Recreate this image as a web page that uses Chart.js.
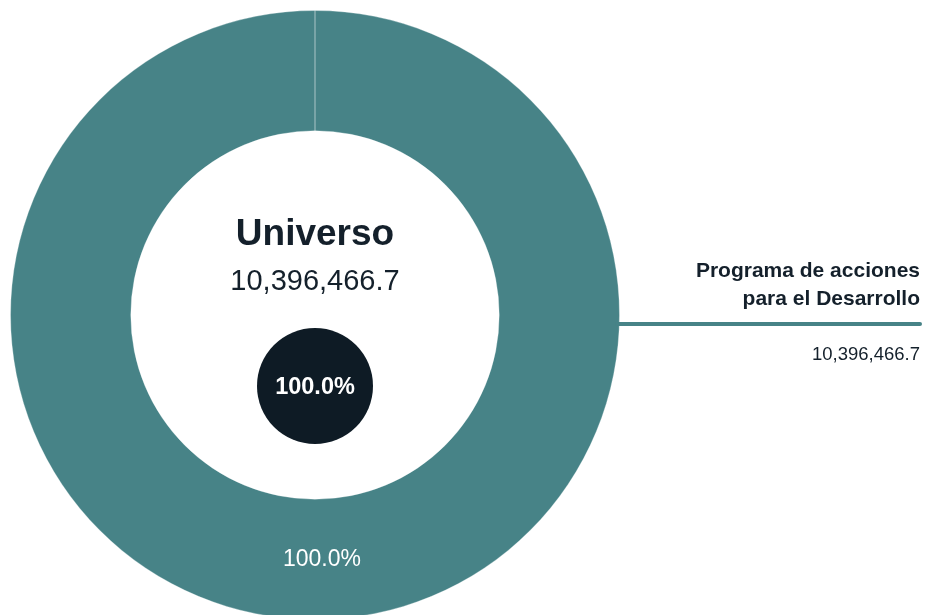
<!DOCTYPE html>
<html>
<head>
<meta charset="utf-8">
<script src="https://cdn.jsdelivr.net/npm/chart.js@4/dist/chart.umd.min.js"></script>
<style>
html,body{margin:0;padding:0;background:#fff;overflow:hidden;width:930px;height:615px;}
#wrap{position:absolute;left:0;top:0;width:930px;height:620px;}
</style>
</head>
<body>
<div id="wrap"><canvas id="c" width="930" height="620"></canvas></div>
<script>
const categories = ['Programa de acciones para el Desarrollo'];
const labelLines = [['Programa de acciones', 'para el Desarrollo']];
const values = [10396466.7];
const centerTitle = 'Universo';
const colors = ['#478387'];

const total = values.reduce((a, b) => a + b, 0);
const fmt = v => v.toLocaleString('en-US', {minimumFractionDigits: 1, maximumFractionDigits: 1});
const pct = v => (v / total * 100).toFixed(1) + '%';
const FONT = '"Liberation Sans", Arial, sans-serif';

const overlay = {
  id: 'overlay',
  afterDraw(chart) {
    const ctx = chart.ctx;
    const meta = chart.getDatasetMeta(0);
    const arc0 = meta.data[0];
    const cx = arc0.x, cy = arc0.y;
    const R = arc0.outerRadius;
    ctx.save();
    ctx.textBaseline = 'alphabetic';
    // slice percentage labels
    meta.data.forEach((arc, i) => {
      const mid = (arc.startAngle + arc.endAngle) / 2;
      const rr = (arc.innerRadius + arc.outerRadius) / 2;
      ctx.fillStyle = '#ffffff';
      ctx.font = '23px ' + FONT;
      ctx.textAlign = 'center';
      ctx.fillText(pct(values[i]), arc.x + Math.cos(mid) * rr + 7, arc.y + Math.sin(mid) * rr + 7);
    });
    // center texts
    ctx.fillStyle = '#14202b';
    ctx.textAlign = 'center';
    ctx.font = 'bold 37px ' + FONT;
    ctx.fillText(centerTitle, cx, cy - 70);
    ctx.font = '29px ' + FONT;
    ctx.fillText(fmt(total), cx, cy - 25);
    // dark circle
    ctx.fillStyle = '#0e1b25';
    ctx.beginPath();
    ctx.arc(cx, cy + 71, 58, 0, Math.PI * 2);
    ctx.fill();
    ctx.fillStyle = '#ffffff';
    ctx.font = 'bold 23.5px ' + FONT;
    ctx.fillText(pct(total), cx, cy + 79);
    // leader line & side label
    const xr = chart.width - 10;
    const ly = cy + 9;
    ctx.strokeStyle = colors[0];
    ctx.lineWidth = 4;
    ctx.lineCap = 'round';
    ctx.beginPath();
    ctx.moveTo(cx + R - 2, ly);
    ctx.lineTo(xr, ly);
    ctx.stroke();
    ctx.fillStyle = '#14202b';
    ctx.textAlign = 'right';
    ctx.font = 'bold 21px ' + FONT;
    labelLines[0].forEach((t, j) => ctx.fillText(t, xr, ly - 47 + j * 28));
    ctx.font = '18.5px ' + FONT;
    ctx.fillText(fmt(values[0]), xr, ly + 36);
    ctx.restore();
  }
};

new Chart(document.getElementById('c'), {
  type: 'doughnut',
  data: {
    labels: categories,
    datasets: [{
      data: values,
      backgroundColor: colors,
      borderColor: 'rgba(255,255,255,0.3)',
      borderWidth: 1
    }]
  },
  options: {
    responsive: false,
    animation: false,
    cutout: '60.5%',
    layout: {padding: {left: 10, top: 10, right: 310, bottom: 0}},
    plugins: {legend: {display: false}, tooltip: {enabled: false}}
  },
  plugins: [overlay]
});
</script>
</body>
</html>
